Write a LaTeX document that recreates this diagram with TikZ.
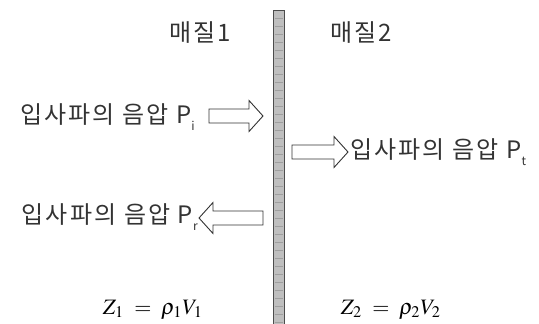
\documentclass[tikz,border=0pt]{standalone}
\usepackage{mathptmx}
\usepackage{fontspec}
\usepackage{graphicx}
\newfontfamily\kr[LetterSpace=9]{Noto Sans CJK KR}
\tikzset{
  lbl/.style={inner sep=0pt, font=\kr\fontsize{24}{24}\selectfont, text=black!80},
  blk/.style={draw=black!80, line width=0.9pt, fill=white, line join=miter},
  eqn/.style={inner sep=0pt}
}
\newcommand{\subtxt}[1]{\raisebox{-0.5ex}{\fontsize{12}{12}\selectfont #1}}
\begin{document}
\begin{tikzpicture}[x=1pt,y=-1pt]
\useasboundingbox (0,0) rectangle (539,324);
% wall
\fill[gray!50] (273,10) rectangle (284,326);
\foreach \yy in {18,26,...,322} \draw[gray!75, line width=0.5pt] (274.5,\yy) -- (282.5,\yy);
\draw[black!70, line width=0.8pt] (273,326) -- (273,10) -- (284,10) -- (284,326);
% headings
\node[lbl] (m1) at (200,33) {매질1};
\node[lbl] (m2) at (361,33) {매질2};
% arrow 1 (right)
\draw[blk] (209,109) -- (249,109) -- (249,100.5) -- (263,116) -- (249,131.5) -- (249,123) -- (209,123) -- cycle;
\node[lbl, anchor=east] (pi) at (195,117) {입사파의 음압 P\subtxt{i}};
% arrow 2 (right)
\draw[blk] (292,145) -- (334,145) -- (334,136.5) -- (348,152) -- (334,167.5) -- (334,159) -- (292,159) -- cycle;
\node[lbl, anchor=west] (pt) at (350,152) {입사파의 음압 P\subtxt{t}};
% arrow 3 (left)
\draw[blk] (263,211) -- (213,211) -- (213,202.5) -- (199,218) -- (213,233.5) -- (213,225) -- (263,225) -- cycle;
\node[lbl, anchor=east] (pr) at (198,217) {입사파의 음압 P\subtxt{r}};
% impedances
\node[eqn] (z1) at (153,310) {\resizebox{100pt}{!}{$Z_1 \;=\; \rho_1 V_1$}};
\node[eqn] (z2) at (391,310) {\resizebox{100pt}{!}{$Z_2 \;=\; \rho_2 V_2$}};
\end{tikzpicture}
\end{document}
